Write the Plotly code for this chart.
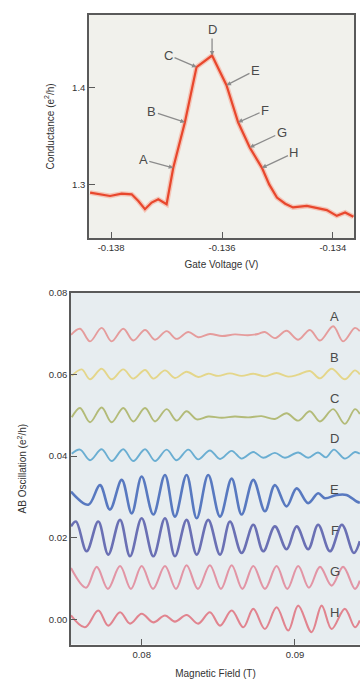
import plotly.graph_objects as go

# ---------------- top panel data: conductance vs gate voltage ----------------
gate_voltage = [-0.13838, -0.13802, -0.13781, -0.13763, -0.13751, -0.13739, -0.13727,
                -0.13715, -0.13700, -0.13688, -0.13667, -0.13646, -0.13618, -0.13592,
                -0.13571, -0.13550, -0.13528, -0.13515, -0.13501, -0.13486, -0.13472,
                -0.13447, -0.13411, -0.13393, -0.13378, -0.13363]
conductance = [1.2915, 1.2880, 1.2904, 1.2897, 1.2828, 1.2743, 1.2812,
               1.2846, 1.2794, 1.3172, 1.3644, 1.4216, 1.4336, 1.4028,
               1.3644, 1.3383, 1.3172, 1.3000, 1.2863, 1.2800, 1.2761,
               1.2777, 1.2733, 1.2674, 1.2709, 1.2664]

mark_labels = ["A", "B", "C", "D", "E", "F", "G", "H"]
mark_voltage = [-0.13688, -0.13667, -0.13646, -0.13618, -0.13592, -0.13571, -0.13550, -0.13528]
mark_conductance = [1.3172, 1.3644, 1.4216, 1.4336, 1.4028, 1.3644, 1.3383, 1.3172]

# ---------------- bottom panel data: AB oscillations vs magnetic field ----------------
field_A = [0.07539, 0.07598, 0.07663, 0.07739, 0.07804, 0.07880, 0.07945, 0.08022, 0.08087, 0.08163,
           0.08228, 0.08304, 0.08369, 0.08445, 0.08524, 0.08608, 0.08693, 0.08758, 0.08804, 0.08869,
           0.08945, 0.09021, 0.09097, 0.09163, 0.09249, 0.09314, 0.09391, 0.09423]
osc_A = [0.0697, 0.0712, 0.0681, 0.0714, 0.0681, 0.0712, 0.0683, 0.0709, 0.0685, 0.0706,
         0.0687, 0.0704, 0.0691, 0.0699, 0.0694, 0.0698, 0.0696, 0.0699, 0.0704, 0.0689,
         0.0707, 0.0685, 0.0709, 0.0683, 0.0718, 0.0681, 0.0714, 0.0706]

field_B = [0.07544, 0.07609, 0.07663, 0.07739, 0.07804, 0.07880, 0.07945, 0.08022, 0.08076, 0.08152,
           0.08217, 0.08293, 0.08369, 0.08434, 0.08499, 0.08576, 0.08652, 0.08728, 0.08804, 0.08880,
           0.08956, 0.09021, 0.09097, 0.09163, 0.09239, 0.09325, 0.09391, 0.09423]
osc_B = [0.05964, 0.06124, 0.05881, 0.06141, 0.05881, 0.06124, 0.05898, 0.06109, 0.05898, 0.06100,
         0.05915, 0.06068, 0.05939, 0.06019, 0.05964, 0.06027, 0.05964, 0.06019, 0.05954, 0.06036,
         0.05947, 0.05995, 0.06085, 0.05905, 0.06141, 0.05881, 0.06100, 0.06002]

field_C = [0.07544, 0.07598, 0.07663, 0.07739, 0.07804, 0.07880, 0.07945, 0.08022, 0.08087, 0.08163,
           0.08228, 0.08293, 0.08359, 0.08434, 0.08522, 0.08608, 0.08695, 0.08782, 0.08869, 0.08945,
           0.09021, 0.09097, 0.09163, 0.09249, 0.09325, 0.09391, 0.09423]
osc_C = [0.0495, 0.0518, 0.0483, 0.0519, 0.0483, 0.0518, 0.0485, 0.0518, 0.0485, 0.0515,
         0.0487, 0.0510, 0.0490, 0.0497, 0.0494, 0.0497, 0.0495, 0.0498, 0.0491, 0.0505,
         0.0487, 0.0510, 0.0485, 0.0515, 0.0479, 0.0515, 0.0503]

field_D = [0.07544, 0.07598, 0.07663, 0.07739, 0.07804, 0.07880, 0.07945, 0.08022, 0.08087, 0.08163,
           0.08228, 0.08304, 0.08369, 0.08445, 0.08511, 0.08587, 0.08652, 0.08728, 0.08793, 0.08869,
           0.08934, 0.09021, 0.09086, 0.09150, 0.09202, 0.09254, 0.09325, 0.09391, 0.09423]
osc_D = [0.0406, 0.0416, 0.0390, 0.0417, 0.0388, 0.0417, 0.0388, 0.0417, 0.0388, 0.0416,
         0.0390, 0.0416, 0.0392, 0.0414, 0.0393, 0.0413, 0.0394, 0.0410, 0.0396, 0.0408,
         0.0396, 0.0409, 0.0396, 0.0409, 0.0397, 0.0416, 0.0394, 0.0410, 0.0406]

field_E = [0.07539, 0.07652, 0.07728, 0.07793, 0.07870, 0.07935, 0.08000, 0.08076, 0.08152, 0.08217,
           0.08293, 0.08359, 0.08434, 0.08511, 0.08587, 0.08652, 0.08728, 0.08804, 0.08869, 0.08945,
           0.09011, 0.09086, 0.09151, 0.09195, 0.09271, 0.09336, 0.09402, 0.09423]
osc_E = [0.0313, 0.0281, 0.0329, 0.0269, 0.0342, 0.0260, 0.0350, 0.0257, 0.0354, 0.0252,
         0.0354, 0.0248, 0.0354, 0.0252, 0.0345, 0.0257, 0.0342, 0.0265, 0.0329, 0.0277,
         0.0321, 0.0285, 0.0309, 0.0297, 0.0305, 0.0305, 0.0289, 0.0286]

field_F = [0.07539, 0.07572, 0.07641, 0.07717, 0.07782, 0.07859, 0.07924, 0.08000, 0.08076, 0.08152,
           0.08217, 0.08293, 0.08359, 0.08434, 0.08511, 0.08576, 0.08652, 0.08728, 0.08793, 0.08869,
           0.08945, 0.09011, 0.09086, 0.09151, 0.09228, 0.09306, 0.09384, 0.09423]
osc_F = [0.0228, 0.0240, 0.0167, 0.0240, 0.0159, 0.0244, 0.0155, 0.0248, 0.0155, 0.0248,
         0.0155, 0.0244, 0.0159, 0.0244, 0.0159, 0.0240, 0.0163, 0.0232, 0.0167, 0.0228,
         0.0172, 0.0228, 0.0172, 0.0232, 0.0167, 0.0232, 0.0163, 0.0192]

field_G = [0.07539, 0.07637, 0.07707, 0.07780, 0.07859, 0.07930, 0.08000, 0.08074, 0.08152, 0.08224,
           0.08293, 0.08367, 0.08445, 0.08517, 0.08587, 0.08657, 0.08728, 0.08804, 0.08880, 0.08950,
           0.09021, 0.09091, 0.09163, 0.09239, 0.09314, 0.09391, 0.09423]
osc_G = [0.0126, 0.0078, 0.0129, 0.0075, 0.0131, 0.0075, 0.0131, 0.0075, 0.0131, 0.0075,
         0.0133, 0.0075, 0.0133, 0.0075, 0.0133, 0.0075, 0.0131, 0.0075, 0.0131, 0.0075,
         0.0131, 0.0078, 0.0129, 0.0083, 0.0129, 0.0075, 0.0095]

field_H = [0.07539, 0.07630, 0.07717, 0.07782, 0.07859, 0.07924, 0.08000, 0.08076, 0.08152, 0.08217,
           0.08293, 0.08369, 0.08445, 0.08511, 0.08587, 0.08663, 0.08728, 0.08804, 0.08880, 0.08956,
           0.09021, 0.09108, 0.09174, 0.09239, 0.09325, 0.09391, 0.09423]
osc_H = [0.0010, -0.0019, 0.0022, -0.0015, 0.0018, -0.0010, 0.0014, -0.0007, 0.0010, -0.0005,
         0.0011, -0.0010, 0.0018, -0.0015, 0.0022, -0.0019, 0.0026, -0.0023, 0.0030, -0.0027,
         0.0034, -0.0031, 0.0034, -0.0023, 0.0026, -0.0019, -0.0002]

trace_labels = ["A", "B", "C", "D", "E", "F", "G", "H"]
trace_offsets = [0.07, 0.06, 0.05, 0.04, 0.03, 0.02, 0.01, 0.00]
top_xticks = [-0.138, -0.136, -0.134]
top_yticks = [1.3, 1.4]
bottom_xticks = [0.08, 0.09]
bottom_yticks = [0.00, 0.02, 0.04, 0.06, 0.08]

# ---------------- styling ----------------
FONT = "Liberation Sans, Arial, sans-serif"
TXT = "#333333"
AX = "#5a5a5a"
colors = ["#e59c9c", "#e4d68a", "#b3bb78", "#6aaed2", "#5879c0", "#6a70b4", "#e295a5", "#e1848f"]
widths = [1.9, 1.9, 1.9, 1.9, 2.6, 2.6, 2.1, 2.1]

fig = go.Figure()

# top panel curve (soft halo + line)
fig.add_trace(go.Scatter(x=gate_voltage, y=conductance, mode="lines", xaxis="x", yaxis="y",
                         line=dict(color="rgba(245,160,140,0.55)", width=5), hoverinfo="skip"))
fig.add_trace(go.Scatter(x=gate_voltage, y=conductance, mode="lines", xaxis="x", yaxis="y",
                         line=dict(color="#e8472d", width=2.2)))

fields = [field_A, field_B, field_C, field_D, field_E, field_F, field_G, field_H]
oscs = [osc_A, osc_B, osc_C, osc_D, osc_E, osc_F, osc_G, osc_H]
for f, o, c, w in zip(fields, oscs, colors, widths):
    fig.add_trace(go.Scatter(x=f, y=o, mode="lines", xaxis="x2", yaxis="y2",
                             line=dict(color=c, width=w, shape="spline", smoothing=1.0)))

annotations = []
arrow_offsets = [(-30, -8), (-33, -11), (-28, -12), (0, -26), (29, -15), (27, -12), (32, -15), (32, -15)]
for lab, v, g, (dx, dy) in zip(mark_labels, mark_voltage, mark_conductance, arrow_offsets):
    annotations.append(dict(x=v, y=g, xref="x", yref="y", text=lab, showarrow=True,
                            arrowhead=2, arrowsize=0.7, arrowwidth=1.3, arrowcolor="#8c8c8c",
                            ax=dx, ay=dy, standoff=0,
                            font=dict(family=FONT, size=13, color="#4a4a4a")))
for i, (lab, off) in enumerate(zip(trace_labels, trace_offsets)):
    annotations.append(dict(x=0.0926, y=off + (0.0042 if i < 4 else 0.0018), xref="x2", yref="y2",
                            text=lab, showarrow=False,
                            font=dict(family=FONT, size=13, color="#4a4a4a")))

axis_common = dict(showgrid=False, zeroline=False, showline=True, linecolor=AX, linewidth=1.5,
                   ticks="inside", ticklen=6, tickwidth=1.3, tickcolor=AX,
                   tickfont=dict(family=FONT, size=9.5, color=TXT))
title_font = dict(family=FONT, size=10, color=TXT)

fig.update_layout(
    width=360, height=682, margin=dict(l=0, r=0, t=0, b=0),
    paper_bgcolor="white", plot_bgcolor="rgba(0,0,0,0)", showlegend=False,
    font=dict(family=FONT, color=TXT),
    xaxis=dict(domain=[0.2472, 0.9833], range=[-0.1384, -0.13362], anchor="y",
               tickvals=top_xticks, ticktext=[f"{t:.3f}" for t in top_xticks], mirror=True,
               title=dict(text="Gate Voltage (V)", font=title_font, standoff=9),
               **axis_common),
    yaxis=dict(domain=[0.6569, 0.9868], range=[1.2445, 1.4757], anchor="x",
               tickvals=top_yticks, ticktext=["1.3", "1.4"], mirror=True,
               title=dict(text="Conductance (e<sup>2</sup>/h)", font=title_font, standoff=16),
               **axis_common),
    xaxis2=dict(domain=[0.1972, 1.0], range=[0.07539, 0.09424], anchor="y2",
                tickvals=bottom_xticks, ticktext=["0.08", "0.09"], mirror=True,
                title=dict(text="Magnetic Field (T)", font=title_font, standoff=11),
                **axis_common),
    yaxis2=dict(domain=[0.0553, 0.5758], range=[-0.00614, 0.08], anchor="x2",
                tickvals=bottom_yticks, ticktext=[f"{t:.2f}" for t in bottom_yticks], mirror=False,
                title=dict(text="AB Oscillation (e<sup>2</sup>/h)", font=title_font, standoff=20),
                **axis_common),
    shapes=[
        dict(type="rect", xref="x domain", yref="y domain", x0=0, x1=1, y0=0, y1=1,
             fillcolor="#f1f1ec", line=dict(width=0), layer="below"),
        dict(type="rect", xref="x2 domain", yref="y2 domain", x0=0, x1=1, y0=0, y1=1,
             fillcolor="#e7edf0", line=dict(width=0), layer="below"),
    ],
    annotations=annotations,
)

fig.write_html("out.html")
